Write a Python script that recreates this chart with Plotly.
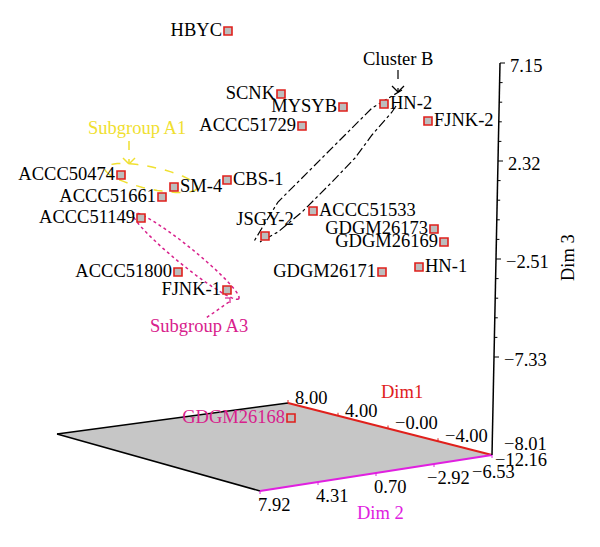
import numpy as np
import plotly.graph_objects as go

strains = ["HBYC", "SCNK", "MYSYB", "ACCC51729", "HN-2", "FJNK-2", "ACCC50474", "SM-4",
           "CBS-1", "ACCC51661", "ACCC51149", "JSGY-2", "ACCC51800", "FJNK-1", "ACCC51533",
           "GDGM26173", "GDGM26169", "HN-1", "GDGM26171", "GDGM26168"]
proj_x = [228, 281, 343, 302, 384, 428, 121, 174, 227, 162, 141, 265, 178, 227, 313,
          434, 444, 419, 382, 291]
proj_y = [31, 94, 107, 126, 104, 121, 175, 187, 180, 197, 218, 236, 272, 290, 211,
          229, 242, 267, 272, 418]
label_side = ["middle left", "middle left", "middle left", "middle left", "middle right",
              "middle right", "middle left", "middle right", "middle right", "middle left",
              "middle left", "top center", "middle left", "middle left", "middle right",
              "middle left", "middle left", "middle right", "middle left", "middle left"]

dim1_ticks = ["8.00", "4.00", "\u22120.00", "\u22124.00"]
dim2_ticks = ["7.92", "4.31", "0.70", "\u22122.92", "\u22126.53"]
dim3_ticks = ["7.15", "2.32", "\u22122.51", "\u22127.33", "\u22128.01"]

FONT = "Liberation Serif, Times New Roman, DejaVu Serif, serif"
FS = 18.5
RED = "#e0201c"
MAG = "#e020e0"
PINK = "#d8218c"
YEL = "#f0e030"

# screen geometry of the box floor
O = (492, 455)        # origin corner
P1 = (288, 403)       # far end of Dim1
P2 = (260, 491)       # far end of Dim2
P3 = (57, 434)        # opposite corner
Z = (500, 63)         # top of Dim3


def ellipse_path(cx, cy, a, b, ang, n=60):
    t = np.linspace(0, 2 * np.pi, n)
    r = np.deg2rad(ang)
    xs = cx + a * np.cos(t) * np.cos(r) - b * np.sin(t) * np.sin(r)
    ys = cy + a * np.cos(t) * np.sin(r) + b * np.sin(t) * np.cos(r)
    return "M " + " L ".join(f"{x:.1f},{y:.1f}" for x, y in zip(xs, ys)) + " Z"


def poly_path(pts):
    return "M " + " L ".join(f"{x},{y}" for x, y in pts)


def seg(x0, y0, x1, y1, color, width=1.5, dash="solid"):
    return dict(type="line", x0=x0, y0=y0, x1=x1, y1=y1, layer="below",
                line=dict(color=color, width=width, dash=dash))


shapes = []
# floor
shapes.append(dict(type="path", layer="below", fillcolor="#c6c6c6", line=dict(width=0),
                   path=f"M {P3[0]},{P3[1]} L {P1[0]},{P1[1]} L {O[0]},{O[1]} L {P2[0]},{P2[1]} Z"))
shapes.append(seg(*P3, *P1, "black", 1.5))
shapes.append(seg(*P3, *P2, "black", 1.5))
shapes.append(seg(*P1, *O, RED, 2))
shapes.append(seg(*P2, *O, MAG, 2))
# Dim3 axis
shapes.append(seg(*O, *Z, "black", 1.5))

annotations = []


def txt(x, y, s, color="black", size=FS, xanchor="center", angle=0):
    annotations.append(dict(x=x, y=y, text=s, showarrow=False, xanchor=xanchor, yanchor="middle",
                            textangle=angle, font=dict(family=FONT, size=size, color=color)))


# Dim3 ticks
d3_y = [63, 161, 259, 357]
for i, yy in enumerate(d3_y):
    xx = Z[0] - (yy - Z[1]) / (O[1] - Z[1]) * (Z[0] - O[0])
    shapes.append(seg(xx, yy, xx + 5, yy, "black", 1))
    txt(xx + 8, yy + 3, dim3_ticks[i], xanchor="left")
    if i < 3:
        for k in range(1, 5):
            ym = yy + k * (d3_y[1] - d3_y[0]) / 5
            xm = Z[0] - (ym - Z[1]) / (O[1] - Z[1]) * (Z[0] - O[0])
            shapes.append(seg(xm, ym, xm + 3, ym, "black", 1))
txt(502, 444, dim3_ticks[4], xanchor="left")
txt(493, 460, "\u221212.16", xanchor="left")
txt(568, 258, "Dim 3", angle=-90)

# Dim1 ticks
for i, lab in enumerate(dim1_ticks):
    tx = P1[0] + i * (O[0] - P1[0]) * 50 / 204
    ty = P1[1] + i * (O[1] - P1[1]) * 50 / 204
    shapes.append(seg(tx, ty, tx, ty - 3, RED, 1))
    txt(tx + 5, ty - 5, lab, xanchor="left")
txt(402, 392, "Dim1", color=RED)

# Dim2 ticks
for i, lab in enumerate(dim2_ticks):
    tx = P2[0] + i * (O[0] - P2[0]) / 4
    ty = P2[1] + i * (O[1] - P2[1]) / 4
    shapes.append(seg(tx, ty, tx, ty + 3, MAG, 1))
    if i < 4:
        txt(tx + 14, ty + 14, lab)
    else:
        txt(493, 472, lab)
txt(380, 513, "Dim 2", color=MAG)

# Subgroup A1
shapes.append(dict(type="path", layer="below", path=ellipse_path(151, 178, 47, 11, 12),
                   line=dict(color=YEL, width=1.5, dash="dash")))
shapes.append(seg(129, 141, 129, 164, YEL, 1.5, "dash"))
shapes.append(seg(123, 158, 129, 164, YEL, 1.5))
shapes.append(seg(135, 158, 129, 164, YEL, 1.5))
txt(137, 128, "Subgroup A1", color=YEL)

# Subgroup A3
shapes.append(dict(type="path", layer="below", path=ellipse_path(186, 256, 68, 9, 39),
                   line=dict(color=PINK, width=1.5, dash="dot")))
shapes.append(seg(229, 302, 206, 318, PINK, 1.5, "dot"))
shapes.append(seg(225, 298, 230, 298, PINK, 1.2))
shapes.append(seg(230, 298, 230, 303, PINK, 1.2))
txt(199, 326, "Subgroup A3", color=PINK)

# Cluster B loop (two dash-dot sides)
side_a = [(402, 90), (372, 108), (345, 135), (312, 168), (278, 202), (262, 228), (253, 243)]
side_b = [(396, 106), (392, 112), (372, 135), (355, 158), (332, 182), (302, 212), (278, 232), (260, 242)]
for side in (side_a, side_b):
    shapes.append(dict(type="path", layer="below", path=poly_path(side),
                       line=dict(color="black", width=1.2, dash="dashdot")))
shapes.append(seg(398, 70, 398, 92, "black", 1.2, "dash"))
shapes.append(seg(392, 86, 398, 92, "black", 1.2))
shapes.append(seg(404, 86, 398, 92, "black", 1.2))
txt(398, 59, "Cluster B")

label_colors = ["black"] * (len(strains) - 1) + [PINK]

fig = go.Figure()
fig.add_trace(go.Scatter(
    x=proj_x, y=proj_y, text=strains, mode="markers+text", textposition=label_side,
    textfont=dict(family=FONT, size=FS, color=label_colors),
    marker=dict(symbol="square", size=8, color="#bdbdbd", line=dict(color=RED, width=1.6)),
    hoverinfo="text", showlegend=False))

# the page body has an 8px margin, so shift the ranges to keep screen px aligned
fig.update_layout(
    width=600, height=547, margin=dict(l=0, r=0, t=0, b=0),
    paper_bgcolor="white", plot_bgcolor="white",
    xaxis=dict(range=[8, 608], visible=False, fixedrange=True),
    yaxis=dict(range=[555, 8], visible=False, fixedrange=True),
    shapes=shapes, annotations=annotations)

fig.write_html("out.html")
